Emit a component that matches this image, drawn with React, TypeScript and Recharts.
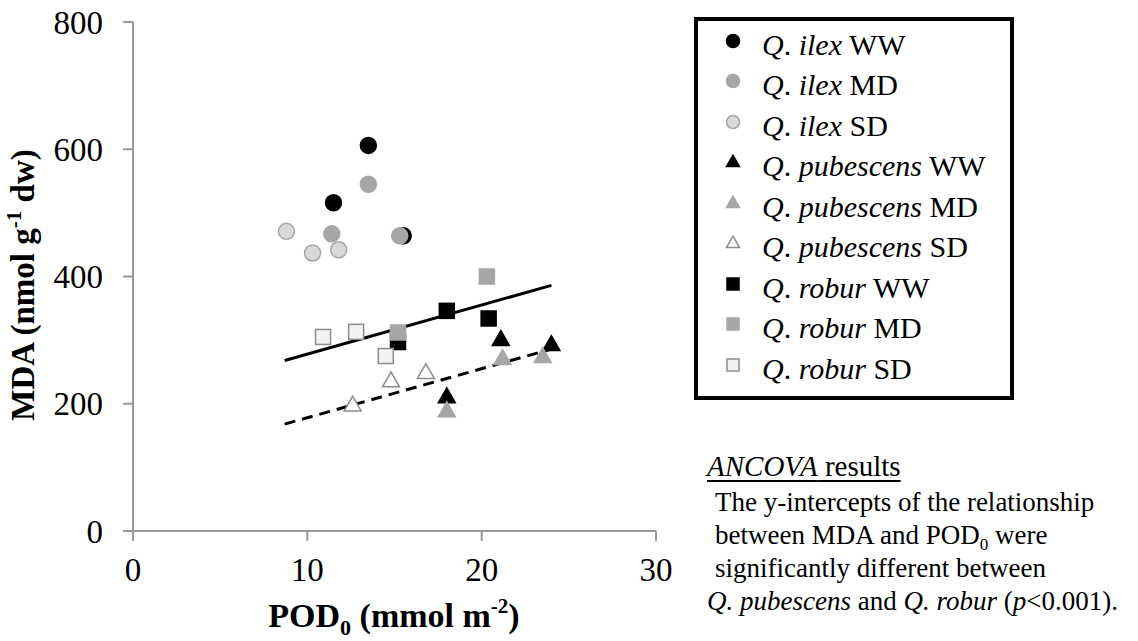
import { ScatterChart, Scatter, XAxis, YAxis } from "recharts";

// MDA vs POD0
const ilexWW = [
  { x: 13.5, y: 606 },
  { x: 11.5, y: 516 },
  { x: 15.5, y: 464 },
];
const ilexMD = [
  { x: 13.5, y: 545 },
  { x: 11.4, y: 467 },
  { x: 15.3, y: 464 },
];
const ilexSD = [
  { x: 8.8, y: 471 },
  { x: 10.3, y: 437 },
  { x: 11.8, y: 442 },
];
const pubWW = [
  { x: 21.1, y: 301 },
  { x: 24.0, y: 293 },
  { x: 18.0, y: 211 },
];
const pubMD = [
  { x: 21.2, y: 271 },
  { x: 23.5, y: 274 },
  { x: 18.0, y: 189 },
];
const pubSD = [
  { x: 12.6, y: 198 },
  { x: 14.8, y: 236 },
  { x: 16.8, y: 249 },
];
const roburWW = [
  { x: 15.2, y: 297 },
  { x: 18.0, y: 346 },
  { x: 20.4, y: 334 },
];
const roburMD = [
  { x: 15.2, y: 312 },
  { x: 20.3, y: 400 },
];
const roburSD = [
  { x: 10.9, y: 305 },
  { x: 12.8, y: 313 },
  { x: 14.5, y: 275 },
];

// regression lines (endpoints)
const roburFit = [
  { x: 8.7, y: 268 },
  { x: 24.0, y: 386 },
];
const pubFit = [
  { x: 8.7, y: 168 },
  { x: 24.0, y: 286 },
];

const xTicks = [0, 10, 20, 30];
const yTicks = [0, 200, 400, 600, 800];

const SERIF = "'Liberation Serif', 'Times New Roman', serif";
const AXIS_GRAY = "#999";

type Kind = "circle" | "triangle" | "square";
interface Style {
  fill: string;
  stroke: string;
}

const ww: Style = { fill: "#000", stroke: "#000" };
const md: Style = { fill: "#a6a6a6", stroke: "#a6a6a6" };
const sdCircle: Style = { fill: "#d9d9d9", stroke: "#a6a6a6" };
const sdTri: Style = { fill: "#fff", stroke: "#8c8c8c" };
const sdSquare: Style = { fill: "#f2f2f2", stroke: "#8c8c8c" };

function marker(kind: Kind, st: Style, cx: number, cy: number, s: number) {
  if (kind === "circle") {
    return <circle cx={cx} cy={cy} r={s / 2} fill={st.fill} stroke={st.stroke} strokeWidth={1.5} />;
  }
  if (kind === "triangle") {
    const h = s * 0.87;
    const pts = `${cx},${cy - h * 0.6} ${cx - s / 2},${cy + h * 0.4} ${cx + s / 2},${cy + h * 0.4}`;
    return <polygon points={pts} fill={st.fill} stroke={st.stroke} strokeWidth={1.5} />;
  }
  return (
    <rect x={cx - s / 2} y={cy - s / 2} width={s} height={s} fill={st.fill} stroke={st.stroke} strokeWidth={1.5} />
  );
}

const shapeOf = (kind: Kind, st: Style, s: number) => (props: any) =>
  <g>{marker(kind, st, props.cx, props.cy, s)}</g>;

const series = [
  { name: "ilex", tag: "WW", kind: "circle" as Kind, st: ww, data: ilexWW },
  { name: "ilex", tag: "MD", kind: "circle" as Kind, st: md, data: ilexMD },
  { name: "ilex", tag: "SD", kind: "circle" as Kind, st: sdCircle, data: ilexSD },
  { name: "pubescens", tag: "WW", kind: "triangle" as Kind, st: ww, data: pubWW },
  { name: "pubescens", tag: "MD", kind: "triangle" as Kind, st: md, data: pubMD },
  { name: "pubescens", tag: "SD", kind: "triangle" as Kind, st: sdTri, data: pubSD },
  { name: "robur", tag: "WW", kind: "square" as Kind, st: ww, data: roburWW },
  { name: "robur", tag: "MD", kind: "square" as Kind, st: md, data: roburMD },
  { name: "robur", tag: "SD", kind: "square" as Kind, st: sdSquare, data: roburSD },
];

const plotSize: Record<Kind, number> = { circle: 16, triangle: 17, square: 15 };
const legendSize: Record<Kind, number> = { circle: 13, triangle: 13, square: 12 };

function XTitle() {
  return (
    <text x={394} y={627} textAnchor="middle" fontFamily={SERIF} fontWeight="bold" fontSize={34} fill="#000">
      POD
      <tspan fontSize={22} dy={8}>0</tspan>
      <tspan dy={-8}> (mmol m</tspan>
      <tspan fontSize={21} dy={-14}>-2</tspan>
      <tspan dy={14}>)</tspan>
    </text>
  );
}

function YTitle() {
  return (
    <text
      transform="translate(34,285) rotate(-90)"
      textAnchor="middle"
      fontFamily={SERIF}
      fontWeight="bold"
      fontSize={33}
      fill="#000"
    >
      MDA (nmol g
      <tspan fontSize={21} dy={-13}>-1</tspan>
      <tspan dy={13}> dw)</tspan>
    </text>
  );
}

function LegendBox() {
  return (
    <div
      style={{
        position: "absolute",
        left: 694,
        top: 17,
        width: 320,
        height: 383,
        border: "4px solid #000",
        boxSizing: "border-box",
        fontFamily: SERIF,
        fontSize: 30,
        color: "#000",
      }}
    >
      {series.map((s, i) => (
        <div
          key={i}
          style={{
            position: "absolute",
            left: 0,
            top: 3.75 + i * 40.5,
            height: 40.5,
            lineHeight: "40.5px",
            width: 300,
            whiteSpace: "nowrap",
          }}
        >
          <svg width={20} height={20} style={{ position: "absolute", left: 25, top: 6 }}>
            {marker(s.kind, s.st, 10, 10, legendSize[s.kind])}
          </svg>
          <span style={{ position: "absolute", left: 64 }}>
            <i>Q</i>. <i>{s.name}</i> {s.tag}
          </span>
        </div>
      ))}
    </div>
  );
}

function Ancova() {
  const body = { position: "absolute" as const, left: 715, height: 33, lineHeight: "33px", fontSize: 27, whiteSpace: "nowrap" as const };
  return (
    <div style={{ fontFamily: SERIF, color: "#000" }}>
      <div
        style={{
          position: "absolute",
          left: 707,
          top: 450,
          lineHeight: "33px",
          fontSize: 29,
          textDecoration: "underline",
          textUnderlineOffset: 4,
          textDecorationThickness: 2,
        }}
      >
        <i>ANCOVA</i> results
      </div>
      <div style={{ ...body, top: 486 }}>The y-intercepts of the relationship</div>
      <div style={{ ...body, top: 519 }}>
        between MDA and POD<span style={{ fontSize: 17, position: "relative", top: 6 }}>0</span> were
      </div>
      <div style={{ ...body, top: 552 }}>significantly different between</div>
      <div style={{ ...body, left: 707, top: 585 }}>
        <i>Q. pubescens</i> and <i>Q. robur</i> (<i>p</i>&lt;0.001).
      </div>
    </div>
  );
}

export default function App() {
  const tick = { fontSize: 33, fill: "#000", fontFamily: SERIF };
  return (
    <div style={{ position: "relative", width: 1138, height: 641, background: "#fff" }}>
      <style>{`body{margin:0}`}</style>
      <ScatterChart width={1138} height={641} margin={{ top: 22, right: 482, bottom: 0, left: 0 }}>
        <XAxis
          type="number"
          dataKey="x"
          domain={[0, 30]}
          ticks={xTicks}
          interval={0}
          height={110}
          tickSize={10}
          tickMargin={17}
          tick={tick}
          axisLine={{ stroke: AXIS_GRAY, strokeWidth: 2 }}
          tickLine={{ stroke: AXIS_GRAY, strokeWidth: 2 }}
          label={<XTitle />}
        />
        <YAxis
          type="number"
          dataKey="y"
          domain={[0, 800]}
          ticks={yTicks}
          interval={0}
          width={133}
          tickSize={10}
          tickMargin={20}
          tick={tick}
          axisLine={{ stroke: AXIS_GRAY, strokeWidth: 2 }}
          tickLine={{ stroke: AXIS_GRAY, strokeWidth: 2 }}
          label={<YTitle />}
        />
        <Scatter
          data={roburFit}
          line={{ stroke: "#000", strokeWidth: 3 }}
          shape={() => <g />}
          isAnimationActive={false}
        />
        <Scatter
          data={pubFit}
          line={{ stroke: "#000", strokeWidth: 3, strokeDasharray: "11 7" }}
          shape={() => <g />}
          isAnimationActive={false}
        />
        {series.map((s, i) => (
          <Scatter
            key={i}
            name={`Q. ${s.name} ${s.tag}`}
            data={s.data}
            shape={shapeOf(s.kind, s.st, plotSize[s.kind])}
            isAnimationActive={false}
          />
        ))}
      </ScatterChart>
      <LegendBox />
      <Ancova />
    </div>
  );
}
